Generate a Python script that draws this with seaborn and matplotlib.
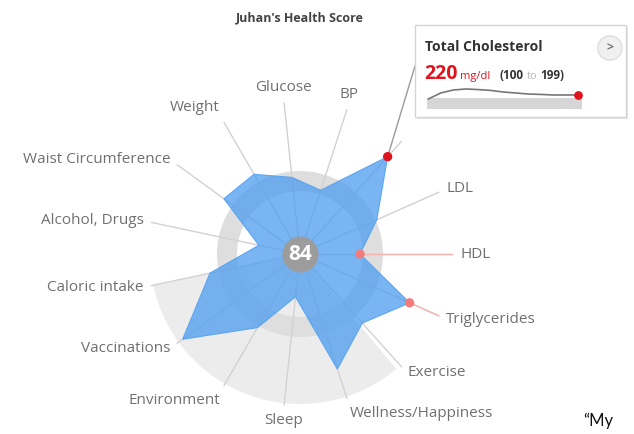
import numpy as np
import pandas as pd
import matplotlib
matplotlib.use("Agg")
import matplotlib.pyplot as plt
from matplotlib.patches import Rectangle
import seaborn as sns

# ---- data ----
title = "Juhan's Health Score"
metrics = ["Total Cholesterol", "LDL", "HDL", "Triglycerides", "Exercise",
           "Wellness/Happiness", "Sleep", "Environment", "Vaccinations",
           "Caloric intake", "Alcohol, Drugs", "Waist Circumference",
           "Weight", "Glucose", "BP"]
scores = [131, 84, 60, 120, 93, 121, 43, 85, 145, 92, 42, 94, 92, 77, 67]
flagged = ["Total Cholesterol", "HDL", "Triglycerides"]
overall = 84

chol_name = "Total Cholesterol"
chol_value = 220
chol_unit = "mg/dl"
chol_low, chol_high = 100, 199
chol_history = [192, 234, 255, 262, 258, 252, 241, 234, 227, 224, 220, 220, 220]

side_note = "\u201cMy"

# ---- style ----
sns.set_theme(style="white")
plt.rcParams["font.family"] = ["Open Sans", "DejaVu Sans"]

label_col = "#707070"
blue = "#4d9cf0"
red = "#e0141e"
pink = "#f27b7b"

W, H = 634, 434
fig = plt.figure(figsize=(W / 100, H / 100), dpi=100)

cx, cy, R = 300, 254, 200
ax = fig.add_axes([(cx - R) / W, (H - cy - R) / H, 2 * R / W, 2 * R / H],
                  projection="polar")
ax.set_theta_zero_location("N")
ax.set_theta_direction(-1)
ax.set_ylim(0, R)
ax.set_axis_off()

n = len(metrics)
theta = np.deg2rad(42) + np.arange(n) * 2 * np.pi / n
df = pd.DataFrame({"metric": metrics, "theta": theta, "score": scores})
df["flag"] = df["metric"].isin(flagged)

# background: lower grey wedge and a ring
ax.bar(np.deg2rad(199), 150, width=np.deg2rad(118), bottom=0,
       color="#ececec", linewidth=0, zorder=0)
ax.bar(0, 20, width=2 * np.pi, bottom=63, color="#dedede", linewidth=0, zorder=1)

# spokes
spoke_len = 152
for _, row in df.iterrows():
    ax.plot([row.theta, row.theta], [0, spoke_len], color="#d2d2d2", lw=1, zorder=2)
    if row.flag and row.metric != chol_name:
        ax.plot([row.theta, row.theta], [row.score, spoke_len], color="#f4b4b4",
                lw=1, zorder=2)

# score polygon
th = np.append(df["theta"], df["theta"].iloc[0])
sc = np.append(df["score"], df["score"].iloc[0])
ax.fill(th, sc, color=blue, alpha=0.75, linewidth=0, zorder=3)
ax.plot(th, sc, color="#5aa5f2", lw=0.8, zorder=3)

# flagged points
fl = df[df["flag"]].copy()
fl["kind"] = np.where(fl["metric"] == chol_name, "sel", "warn")
sns.scatterplot(data=fl, x="theta", y="score", hue="kind",
                palette={"sel": red, "warn": pink}, s=45, linewidth=0,
                legend=False, ax=ax, zorder=5)

# axis labels
label_r = 160
for _, row in df.iterrows():
    if row.metric == chol_name:
        continue
    s, c = np.sin(row.theta), np.cos(row.theta)
    if c < -0.75:
        ha = "left" if s > 0.2 else ("right" if s < -0.2 else "center")
    else:
        ha = "left" if s > 0.35 else ("right" if s < -0.35 else "center")
    va = "bottom" if c > 0.75 else ("top" if c < -0.75 else "center")
    ax.text(row.theta, label_r, row.metric, ha=ha, va=va, fontsize=11,
            color=label_col, zorder=6)

# centre score
ax.plot(0, 0, "o", ms=26, color="#9c9c9c", mew=0, zorder=6)
ax.text(0, 0, str(overall), ha="center", va="center", color="white",
        fontsize=15, fontweight="bold", zorder=7)

fig.text(cx / W, 1 - 18 / H, title, ha="center", va="center", fontsize=9,
         fontweight="bold", color="#444444")

# ---- tooltip for the selected metric ----
bx0, by0, bx1, by1 = 415, 25, 626, 117
fig.add_artist(Rectangle(((bx0 + 2) / W, 1 - (by1 + 2) / H), (bx1 - bx0) / W,
                         (by1 - by0) / H, transform=fig.transFigure,
                         facecolor="#e6e6e6", edgecolor="none", zorder=1))
fig.add_artist(Rectangle((bx0 / W, 1 - by1 / H), (bx1 - bx0) / W, (by1 - by0) / H,
                         transform=fig.transFigure, facecolor="white",
                         edgecolor="#d5d5d5", lw=1, zorder=1.5))

sel = df[df["metric"] == chol_name].iloc[0]
ax.annotate("", xy=(sel.theta, sel.score), xytext=(bx0, H - 66),
            textcoords="figure pixels",
            arrowprops=dict(arrowstyle="-", color="#9a9a9a", lw=1,
                            shrinkA=0, shrinkB=0), zorder=4)

fig.text(425 / W, 1 - 47 / H, chol_name, ha="left", va="center", fontsize=10,
         fontweight="bold", color="#333333", zorder=3)

renderer = fig.canvas.get_renderer()
parts = [(str(chol_value), 14, "bold", red, 3),
         (chol_unit, 8, "normal", red, 9),
         (f"({chol_low}", 8.5, "bold", "#333333", 3),
         ("to", 8, "normal", "#bbbbbb", 3),
         (f"{chol_high})", 8.5, "bold", "#333333", 0)]
x = 424
for txt, size, weight, col, gap in parts:
    t = fig.text(x / W, 1 - 79 / H, txt, ha="left", va="baseline", fontsize=size,
                 fontweight=weight, color=col, zorder=3)
    x = t.get_window_extent(renderer).x1 + gap

fig.text(610 / W, 1 - 48 / H, ">", ha="center", va="center", fontsize=9,
         fontweight="bold", color="#777777", zorder=3,
         bbox=dict(boxstyle="circle,pad=0.45", fc="#f0f0f0", ec="#dddddd", lw=1))

spark = fig.add_axes([427 / W, 1 - 109 / H, 155 / W, 23 / H])
spark.set_zorder(3)
spark.axhspan(122, chol_high, color="#d6d6d6", lw=0)
sns.lineplot(x=np.arange(len(chol_history)), y=chol_history, ax=spark,
             color="#777777", lw=1.2)
spark.scatter([len(chol_history) - 1], [chol_history[-1]], color=red, s=28,
              zorder=3, clip_on=False)
spark.set_xlim(-0.1, len(chol_history) - 0.7)
spark.set_ylim(122, 283)
spark.set_axis_off()

fig.text(583 / W, 1 - 421 / H, side_note, ha="left", va="center", fontsize=12,
         color="#111111", family=["Lato", "DejaVu Sans"])

fig.savefig("out.png", dpi=100)
